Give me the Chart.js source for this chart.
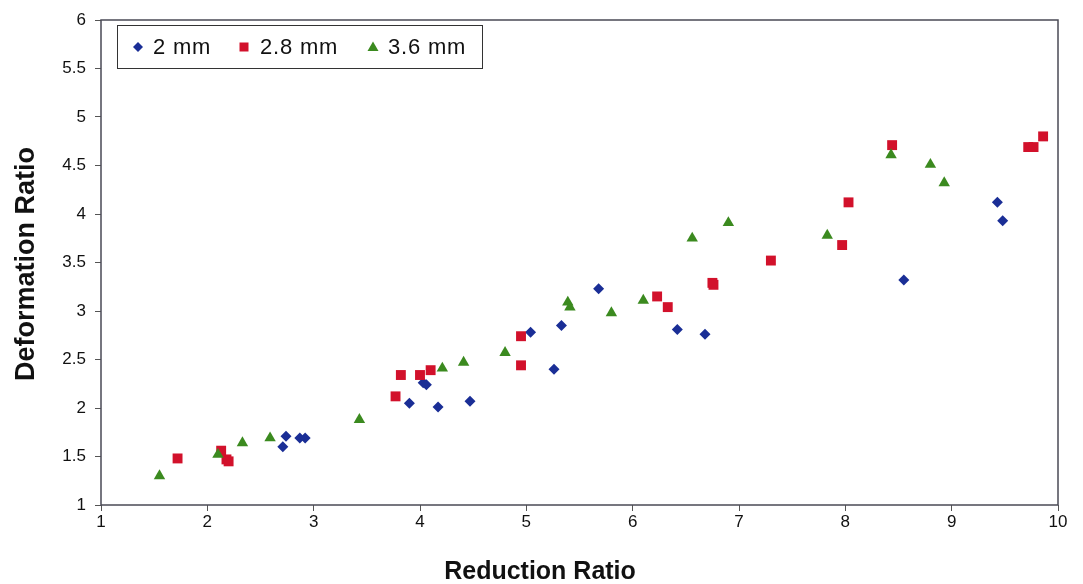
<!DOCTYPE html>
<html><head><meta charset="utf-8">
<script src="https://cdn.jsdelivr.net/npm/chart.js@4.4.1/dist/chart.umd.min.js"></script>
<style>html,body{margin:0;padding:0;background:#fff}#wrap{width:1083px;height:584px}</style>
</head><body><div id="wrap"><canvas id="c" width="1083" height="584"></canvas></div>
<script>
const seriesLabels = ['2 mm', '2.8 mm', '3.6 mm'];

const x2mm = [2.74, 2.71, 2.87, 2.92, 3.90, 4.03, 4.06, 4.17, 4.47, 5.04, 5.26, 5.33, 5.68, 6.42, 6.68, 8.55, 9.43, 9.48];
const y2mm = [1.71, 1.60, 1.69, 1.69, 2.05, 2.26, 2.24, 2.01, 2.07, 2.78, 2.40, 2.85, 3.23, 2.81, 2.76, 3.32, 4.12, 3.93];

const x28mm = [1.72, 2.13, 2.18, 2.20, 3.77, 3.82, 4.00, 4.10, 4.95, 4.95, 6.23, 6.33, 6.75, 6.76, 7.30, 7.97, 8.03, 8.44, 9.72, 9.77, 9.86];
const y28mm = [1.48, 1.56, 1.47, 1.45, 2.12, 2.34, 2.34, 2.39, 2.44, 2.74, 3.15, 3.04, 3.29, 3.27, 3.52, 3.68, 4.12, 4.71, 4.69, 4.69, 4.80];

const x36mm = [1.55, 2.10, 2.33, 2.59, 3.43, 4.21, 4.41, 4.80, 5.39, 5.41, 5.80, 6.10, 6.56, 6.90, 7.83, 8.43, 8.80, 8.93];
const y36mm = [1.30, 1.52, 1.64, 1.69, 1.88, 2.41, 2.47, 2.57, 3.09, 3.04, 2.98, 3.11, 3.75, 3.91, 3.78, 4.61, 4.51, 4.32];

const xTicks = [1, 2, 3, 4, 5, 6, 7, 8, 9, 10];
const yTicks = [1, 1.5, 2, 2.5, 3, 3.5, 4, 4.5, 5, 5.5, 6];

const xTitle = 'Reduction Ratio';
const yTitle = 'Deformation Ratio';

const colors = ['#1a2e96', '#d2112b', '#3b8a1f'];
const styles = ['rectRot', 'rect', 'triangle'];
const radii = [5.5, 7, 6.6];

function pts(xs, ys) { return xs.map((x, i) => ({ x: x, y: ys[i] })); }

const FONT = '"Liberation Sans", Arial, Helvetica, sans-serif';

function drawMarker(ctx, style, x, y, color) {
  ctx.fillStyle = color;
  ctx.beginPath();
  if (style === 'rectRot') {
    ctx.moveTo(x - 5, y); ctx.lineTo(x, y - 5); ctx.lineTo(x + 5, y); ctx.lineTo(x, y + 5);
  } else if (style === 'rect') {
    ctx.rect(x - 4.5, y - 4.5, 9, 9);
  } else {
    ctx.moveTo(x, y - 5.5); ctx.lineTo(x + 5.5, y + 4); ctx.lineTo(x - 5.5, y + 4);
  }
  ctx.closePath();
  ctx.fill();
}

const decor = {
  id: 'decor',
  afterDatasetsDraw(chart) {
    const ctx = chart.ctx, a = chart.chartArea;
    ctx.save();
    ctx.strokeStyle = '#4a4a55';
    ctx.lineWidth = 1.5;
    ctx.strokeRect(a.left, a.top, a.right - a.left, a.bottom - a.top);
    // legend box
    ctx.fillStyle = '#fff';
    ctx.fillRect(117, 25, 365, 43);
    ctx.strokeStyle = '#333';
    ctx.lineWidth = 1;
    ctx.strokeRect(117.5, 25.5, 365, 43);
    const mx = [138, 244, 373];
    const tx = [153, 260, 388];
    ctx.font = '22px ' + FONT;
    if ('letterSpacing' in ctx) ctx.letterSpacing = '0.8px';
    ctx.textBaseline = 'middle';
    ctx.textAlign = 'left';
    chart.data.datasets.forEach((ds, i) => {
      drawMarker(ctx, styles[i], mx[i], 47, colors[i]);
      ctx.fillStyle = '#111';
      ctx.fillText(ds.label, tx[i], 48);
    });
    if ('letterSpacing' in ctx) ctx.letterSpacing = '0px';
    // axis titles
    ctx.fillStyle = '#111';
    ctx.font = 'bold 25px ' + FONT;
    ctx.textAlign = 'center';
    ctx.textBaseline = 'middle';
    ctx.fillText(xTitle, 540, 572);
    ctx.translate(27, 264);
    ctx.rotate(-Math.PI / 2);
    ctx.font = 'bold 27px ' + FONT;
    ctx.fillText(yTitle, 0, 0);
    ctx.restore();
  }
};

new Chart(document.getElementById('c'), {
  type: 'scatter',
  data: {
    datasets: [
      { label: seriesLabels[0], data: pts(x2mm, y2mm), order: 3 },
      { label: seriesLabels[1], data: pts(x28mm, y28mm), order: 2 },
      { label: seriesLabels[2], data: pts(x36mm, y36mm), order: 1 }
    ].map((d, i) => Object.assign(d, {
      pointStyle: styles[i],
      backgroundColor: colors[i],
      borderColor: colors[i],
      borderWidth: 0,
      pointRadius: radii[i],
      pointHoverRadius: radii[i]
    }))
  },
  options: {
    responsive: false,
    animation: false,
    layout: { padding: { left: 0, top: 20, right: 25, bottom: 0 } },
    plugins: { legend: { display: false }, tooltip: { enabled: false } },
    scales: {
      x: {
        type: 'linear', min: 1, max: 10,
        afterBuildTicks: s => { s.ticks = xTicks.map(v => ({ value: v })); },
        afterFit: s => { s.height = 79; },
        border: { display: false },
        grid: { drawOnChartArea: false, drawTicks: true, tickLength: 6, color: '#555' },
        ticks: { padding: 1, color: '#111', font: { family: FONT, size: 17 }, callback: v => String(v), maxRotation: 0, autoSkip: false }
      },
      y: {
        type: 'linear', min: 1, max: 6,
        afterBuildTicks: s => { s.ticks = yTicks.map(v => ({ value: v })); },
        afterFit: s => { s.width = 101; },
        border: { display: false },
        grid: { drawOnChartArea: false, drawTicks: true, tickLength: 6, color: '#555' },
        ticks: { padding: 9, color: '#111', font: { family: FONT, size: 17 }, callback: v => String(v), autoSkip: false }
      }
    }
  },
  plugins: [decor]
});
</script></body></html>
